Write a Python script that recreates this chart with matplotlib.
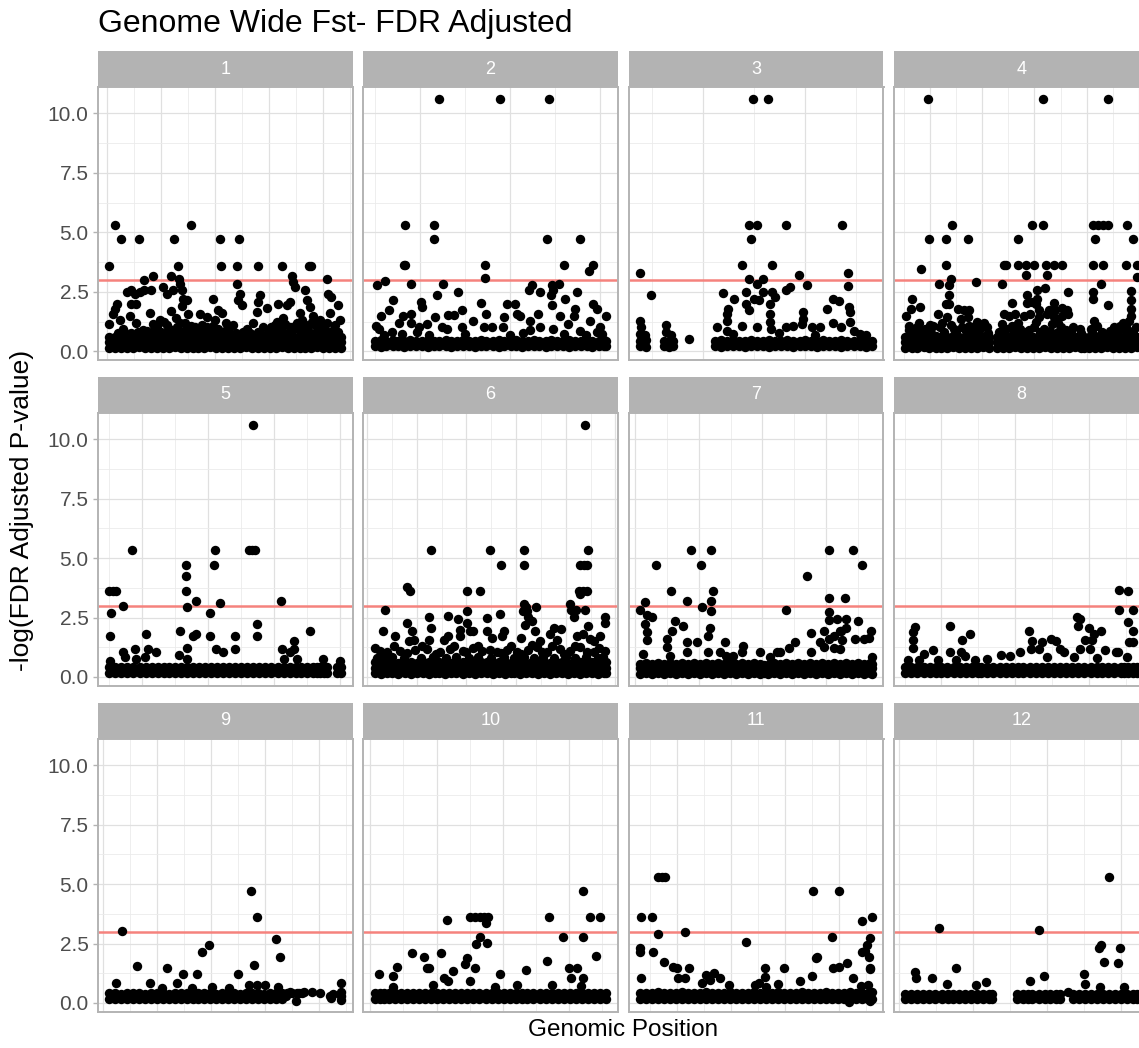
import matplotlib.pyplot as plt
from matplotlib.ticker import MultipleLocator, FormatStrFormatter

plt.rcParams['font.family'] = ['Liberation Sans', 'DejaVu Sans']

title = "Genome Wide Fst- FDR Adjusted"
x_label = "Genomic Position"
y_label = "-log(FDR Adjusted P-value)"
chromosomes = ["1", "2", "3", "4", "5", "6", "7", "8", "9", "10", "11", "12"]
threshold = 3

# dense baseline SNPs: (position Mb, -log p values at that position)
band1 = [(0.4, .14, .37, .6), (1.5, .15, .38, .62), (2.6, .14, .36, .6), (3.7, .15, .38, .64),
         (4.8, .14, .37, .6), (5.9, .16, .38, .62), (7.0, .14, .37, .66), (8.1, .15, .38, .62),
         (9.2, .14, .36, .64), (10.3, .15, .38, .6), (11.4, .14, .37, .66), (12.5, .16, .38, .62),
         (13.6, .14, .37, .64), (14.7, .15, .38, .6), (15.8, .14, .36, .62), (16.9, .15, .38, .6),
         (18.0, .14, .37, .62), (19.1, .16, .38, .64), (20.2, .14, .37, .6), (21.3, .15, .38, .62),
         (22.4, .14, .36, .6), (23.5, .15, .38, .62), (24.6, .14, .37, .6), (25.7, .16, .38, .6),
         (26.8, .14, .37, .62), (27.9, .15, .38, .6), (29.0, .14, .36, .64), (30.1, .15, .38, .62),
         (31.2, .14, .37, .64), (32.3, .16, .38, .6), (33.4, .14, .37, .66), (34.5, .15, .38, .62),
         (35.6, .14, .36, .64), (36.7, .15, .38, .6), (37.8, .14, .37, .62), (38.9, .16, .38, .64),
         (40.0, .14, .37, .6), (41.1, .15, .38, .62), (42.2, .14, .36, .6), (43.3, .15, .38, .62)]
band2 = [(5.0, .22, .45), (5.7, .2, .46), (6.3, .22, .44), (7.0, .21, .46), (7.6, .22, .45),
         (8.3, .2, .44), (8.9, .22, .46), (9.6, .21, .45), (10.3, .22, .44), (10.9, .2, .46),
         (11.6, .22, .45), (12.2, .21, .44), (12.9, .22, .46), (13.5, .2, .45), (14.2, .22, .44),
         (14.8, .21, .46), (15.5, .22, .45), (16.1, .2, .44), (16.8, .22, .46), (17.4, .21, .45),
         (18.1, .22, .44), (18.8, .2, .46), (19.4, .22, .45), (20.1, .21, .44), (20.7, .22, .46),
         (21.4, .2, .45), (22.0, .22, .44), (22.7, .21, .46), (23.3, .22, .45), (24.0, .2, .44),
         (24.6, .22, .46), (25.3, .21, .45), (25.9, .22, .44), (26.6, .2, .46), (27.3, .22, .45),
         (27.9, .21, .44), (28.6, .22, .46), (29.2, .2, .45), (29.9, .22, .44), (30.5, .21, .46),
         (30.7, .22, .45)]
band3 = [(3.9, .22, .45), (4.4, .2, .46), (6.2, .22, .45), (6.7, .2, .44), (7.1, .24, .45),
         (11.2, .22, .45), (11.8, .2, .46), (12.4, .22, .44), (13.0, .21, .46), (13.6, .22, .45),
         (14.2, .2, .44), (14.7, .22, .46), (15.3, .21, .45), (15.9, .22, .44), (16.5, .2, .46),
         (17.1, .22, .45), (17.7, .21, .44), (18.3, .22, .46), (18.9, .2, .45), (19.5, .22, .44),
         (20.0, .21, .46), (20.6, .22, .45), (21.2, .2, .44), (21.8, .22, .46), (22.4, .21, .45),
         (23.0, .22, .44), (23.6, .2, .46), (24.2, .22, .45), (24.8, .21, .44), (25.4, .22, .46),
         (26.0, .2, .45), (26.6, .22, .44)]
band4 = [(5.2, .15, .38, .62), (6.4, .14, .37, .6), (7.5, .15, .38, .64), (8.7, .16, .38, .62),
         (9.8, .14, .37, .6), (11.0, .15, .38, .64), (12.1, .14, .36, .62), (13.3, .15, .38, .6),
         (14.4, .16, .37, .64), (15.6, .14, .38, .62), (16.7, .15, .37, .6), (17.9, .14, .38, .62),
         (19.0, .15, .36, .64), (20.2, .16, .38, .6), (21.3, .14, .37, .62),
         (22.8, .15, .38, .62), (24.0, .14, .37, .64), (25.1, .15, .38, .6), (26.3, .16, .36, .62),
         (27.4, .14, .38, .64), (28.6, .15, .37, .62), (29.7, .14, .38, .6), (30.9, .15, .37, .64),
         (32.0, .16, .38, .62), (33.2, .14, .36, .6), (34.3, .15, .38, .64), (35.5, .14, .37, .62),
         (36.6, .15, .38, .6), (37.8, .16, .37, .62), (38.9, .14, .38, .64), (39.5, .15, .37, .6),
         (40.4, .15, .38, .62), (41.6, .14, .37, .64), (42.7, .15, .38, .6), (43.9, .16, .36, .62),
         (45.0, .14, .38, .64), (46.2, .15, .37, .6), (47.3, .14, .38, .62), (48.5, .15, .37, .64),
         (49.7, .16, .38, .6)]
band5 = [(5.0, .17, .4), (5.9, .16, .42), (6.8, .18, .4), (7.7, .17, .41), (8.6, .16, .4),
         (9.6, .18, .42), (10.5, .17, .4), (11.4, .16, .41), (12.3, .18, .4), (13.3, .17, .42),
         (14.0, .17, .4), (14.9, .16, .42), (15.8, .18, .4), (16.7, .17, .41), (17.7, .16, .4),
         (18.6, .18, .42), (19.5, .17, .4), (20.4, .16, .41), (21.3, .18, .4), (22.2, .17, .42),
         (23.1, .16, .4), (24.1, .18, .41), (25.0, .17, .4), (25.9, .16, .42), (26.8, .18, .4),
         (27.7, .17, .41), (28.6, .16, .4), (29.5, .18, .42), (30.5, .17, .4), (31.4, .16, .41),
         (32.3, .18, .4), (33.2, .17, .42), (34.1, .16, .4), (35.0, .18, .41), (35.9, .17, .4),
         (36.4, .16, .42), (36.9, .17, .4), (37.5, .18, .42), (38.0, .17, .4), (39.5, .16, .41),
         (40.1, .18, .4)]
band6 = [(1.5, .15, .38, .62), (2.7, .14, .37, .6), (3.9, .15, .38, .64), (5.1, .16, .37, .62),
         (6.3, .14, .38, .6), (7.6, .15, .36, .64), (8.8, .14, .38, .62), (10.0, .15, .37, .6),
         (11.2, .16, .38, .64), (12.4, .14, .37, .62), (13.7, .15, .38, .6),
         (14.4, .15, .38, .62), (15.6, .14, .37, .64), (16.8, .15, .38, .6), (18.0, .16, .36, .62),
         (19.3, .14, .38, .64), (20.5, .15, .37, .62), (21.7, .14, .38, .6), (22.9, .15, .37, .64),
         (24.1, .16, .38, .62), (25.3, .14, .36, .6), (26.5, .15, .38, .64), (27.7, .14, .37, .62),
         (29.0, .15, .38, .6),
         (29.6, .15, .38, .62), (30.8, .14, .37, .64), (32.0, .15, .38, .6), (33.2, .16, .36, .62),
         (34.4, .14, .38, .64), (35.7, .15, .37, .62), (36.9, .14, .38, .6), (38.1, .15, .37, .64),
         (39.3, .16, .38, .62), (40.5, .14, .36, .6), (41.7, .15, .38, .64), (42.9, .14, .37, .62),
         (44.1, .15, .38, .6), (45.3, .16, .37, .62), (46.5, .14, .38, .64), (47.7, .15, .37, .6),
         (48.2, .15, .38, .62)]
band7 = [(0.8, .14, .36, .56), (1.7, .15, .37, .58), (2.7, .14, .36, .56), (3.6, .15, .37, .58),
         (4.6, .14, .36, .56), (5.5, .15, .37, .58), (6.4, .14, .36, .56), (7.4, .15, .37, .58),
         (8.3, .14, .36, .56), (9.3, .15, .37, .58), (10.2, .14, .36, .56), (11.1, .15, .37, .58),
         (12.1, .14, .36, .56), (13.0, .15, .37, .58), (14.0, .14, .36, .56), (14.9, .15, .37, .58),
         (15.8, .14, .36, .56), (16.8, .15, .37, .58), (17.7, .14, .36, .56), (18.7, .15, .37, .58),
         (19.6, .14, .36, .56), (20.2, .15, .37, .52),
         (20.9, .14, .36, .52), (21.8, .15, .37, .58), (22.8, .14, .36, .56), (23.7, .15, .37, .58),
         (24.7, .14, .36, .56), (25.6, .15, .37, .58), (26.5, .14, .36, .56), (27.5, .15, .37, .58),
         (28.4, .14, .36, .56), (29.4, .15, .37, .58), (30.3, .14, .36, .56), (31.2, .15, .37, .58),
         (32.2, .14, .36, .56), (33.1, .15, .37, .58), (34.1, .14, .36, .56), (35.0, .15, .37, .58),
         (35.9, .14, .36, .56), (36.9, .15, .37, .58), (37.2, .14, .36, .56)]
band8 = [(5.1, .16, .4), (5.9, .15, .41), (6.7, .17, .4), (7.6, .16, .42), (8.4, .15, .4),
         (9.2, .17, .41), (10.0, .16, .4), (10.8, .15, .42), (11.7, .17, .4), (12.5, .16, .41),
         (13.3, .15, .4), (14.1, .17, .42), (15.0, .16, .4),
         (15.4, .16, .4), (16.2, .15, .41), (17.0, .17, .4), (17.9, .16, .42), (18.7, .15, .4),
         (19.5, .17, .41), (20.3, .16, .4), (21.1, .15, .42), (22.0, .17, .4), (22.8, .16, .41),
         (23.6, .15, .4), (24.4, .17, .42), (25.2, .16, .4), (26.1, .15, .41), (26.9, .17, .4),
         (27.7, .16, .42), (28.5, .15, .4), (29.3, .17, .41), (30.2, .16, .4), (31.0, .15, .42),
         (31.8, .17, .4), (32.6, .16, .41), (33.4, .15, .4), (34.3, .17, .42), (34.7, .16, .4),
         (35.2, .16, .4), (36.0, .15, .42), (36.5, .17, .4)]
band9 = [(1.2, .17, .4), (2.3, .18, .41), (3.4, .17, .39), (4.5, .16, .4), (5.6, .18, .41),
         (6.7, .17, .4), (7.8, .16, .39), (8.9, .18, .41), (10.0, .17, .4), (11.1, .16, .41),
         (12.2, .18, .39), (13.3, .17, .4), (14.4, .16, .41), (15.5, .18, .4), (16.6, .17, .39),
         (17.7, .16, .41), (18.8, .18, .4), (19.9, .17, .41), (21.0, .16, .39), (22.1, .18, .4),
         (23.2, .17, .41), (24.3, .16, .4), (25.4, .18, .39), (26.5, .17, .41), (27.6, .16, .4),
         (28.7, .18, .41), (29.8, .17, .39), (30.9, .16, .4), (32.0, .18, .41), (33.1, .17, .4)]
band10 = [(0.65, .16, .4), (1.4, .15, .42), (2.1, .17, .4),
          (2.8, .16, .4), (3.7, .15, .41), (4.6, .17, .4), (5.5, .16, .42), (6.4, .15, .4),
          (7.3, .17, .41), (8.2, .16, .4), (9.2, .15, .42), (10.1, .17, .4), (11.0, .16, .41),
          (11.9, .15, .4), (12.8, .17, .42), (13.7, .16, .4), (14.6, .15, .41), (15.5, .17, .4),
          (16.4, .16, .42), (17.4, .15, .4), (18.3, .17, .41), (19.2, .16, .4), (20.1, .15, .42),
          (21.0, .17, .4), (21.9, .16, .41), (22.8, .15, .4), (23.7, .17, .42), (24.6, .16, .4),
          (25.6, .15, .41), (26.5, .17, .4), (27.4, .16, .42), (28.3, .15, .4), (29.2, .17, .41),
          (30.1, .16, .4), (31.0, .15, .42), (31.9, .17, .4), (32.8, .16, .41), (33.7, .15, .4),
          (34.7, .17, .42), (35.6, .16, .4)]
band11 = [(3.15, .16, .43), (4.3, .15, .44), (5.4, .17, .43), (6.5, .16, .45), (7.6, .15, .43),
          (8.7, .17, .44), (9.8, .16, .43), (10.9, .15, .45), (12.0, .17, .43), (13.1, .16, .44),
          (14.2, .15, .43), (15.4, .17, .45), (16.5, .16, .43), (17.6, .15, .44), (18.7, .17, .43),
          (19.8, .16, .45), (20.9, .15, .43), (22.0, .17, .44), (23.1, .16, .43), (24.2, .15, .45),
          (25.3, .17, .43), (26.4, .16, .44), (27.5, .15, .43), (28.7, .17, .45), (29.8, .16, .43),
          (30.9, .15, .44), (32.0, .17, .43), (33.1, .16, .45), (34.2, .15, .43), (35.3, .17, .44),
          (36.4, .16, .43), (37.5, .15, .45), (38.6, .17, .43), (39.7, .16, .44), (40.8, .15, .43),
          (41.9, .17, .45), (43.1, .16, .43), (44.2, .15, .44), (45.3, .17, .43), (46.0, .16, .45)]
band12 = [(0.9, .16, .37), (1.7, .15, .38), (2.5, .17, .37), (3.3, .16, .39), (4.1, .15, .37),
          (4.9, .17, .38), (5.8, .16, .37), (6.6, .15, .39), (7.4, .17, .37), (8.2, .16, .38),
          (9.0, .15, .37), (9.8, .17, .39), (10.6, .16, .37), (11.4, .15, .38), (12.2, .17, .37),
          (12.6, .16, .38),
          (16.0, .16, .37), (16.8, .15, .38), (17.5, .17, .37), (18.0, .16, .38),
          (18.9, .16, .37), (19.7, .15, .38), (20.5, .17, .37), (21.3, .16, .39), (21.8, .15, .37),
          (23.6, .16, .37), (24.4, .15, .38), (25.2, .17, .37), (26.0, .16, .39), (26.8, .15, .37),
          (27.6, .17, .38), (28.4, .16, .37), (29.2, .15, .39), (30.0, .17, .37), (30.8, .16, .38),
          (31.6, .15, .37), (32.2, .17, .38)]

# scattered SNPs above the baseline: (position Mb, -log p)
hits1 = [(0.4, 3.6), (1.4, 5.33), (2.65, 4.7), (5.9, 4.7), (12.3, 4.7), (15.6, 5.33), (20.9, 4.7),
         (24.4, 4.7), (13.2, 3.6), (21.0, 3.6), (24.0, 3.6), (28.0, 3.6), (32.3, 3.6), (37.4, 3.6),
         (37.8, 3.6), (6.8, 2.98), (8.5, 3.18), (11.8, 3.18), (13.3, 3.05), (34.3, 3.18), (40.7, 3.05),
         (24.0, 2.84), (34.4, 2.9), (34.8, 2.7), (0.4, 1.15), (1.1, 1.57), (1.5, 1.79), (1.85, 2.0),
         (3.6, 2.48), (4.5, 2.56), (5.1, 2.42), (6.0, 2.48), (6.8, 2.56), (4.5, 2.0), (5.4, 1.97),
         (8.2, 2.56), (10.4, 2.7), (11.0, 2.42), (12.2, 2.56), (13.5, 2.84), (13.8, 2.56), (14.1, 2.2),
         (14.7, 2.14), (19.6, 2.18), (20.6, 1.72), (24.6, 2.42), (24.2, 2.14), (24.9, 1.93),
         (28.3, 2.35), (28.0, 2.07), (27.7, 1.65), (31.7, 2.0), (33.2, 1.93), (33.8, 2.07),
         (36.6, 2.56), (36.9, 2.14), (37.5, 1.86), (38.1, 1.5), (40.9, 2.42), (41.5, 2.28),
         (42.8, 1.93), (43.1, 1.3), (17.2, 1.57), (18.4, 1.46), (2.35, 1.3), (2.96, 0.95), (4.2, 1.5),
         (5.43, 1.2), (6.67, 0.9), (7.9, 1.6), (9.14, 1.05), (9.75, 1.3), (11.0, 1.1), (11.9, 1.7),
         (12.8, 1.4), (13.8, 1.9), (14.4, 1.2), (15.0, 1.55), (16.2, 1.0), (18.4, 1.0), (19.9, 1.3),
         (21.2, 1.6), (22.1, 0.95), (23.3, 1.1), (25.8, 0.95), (27.0, 1.2), (28.9, 1.0), (29.5, 1.8),
         (30.7, 0.9), (31.4, 1.25), (32.6, 1.4), (33.8, 1.0), (35.1, 1.2), (35.7, 1.6), (38.5, 1.1),
         (39.4, 1.3), (40.3, 0.9), (41.2, 1.6), (42.2, 1.1), (7.3, 0.85), (8.5, 1.15), (10.0, 0.8),
         (10.6, 1.25), (12.0, 0.9), (13.0, 1.0), (14.0, 0.8), (15.5, 1.05), (17.0, 0.85), (19.0, 0.8),
         (20.5, 0.95), (22.6, 0.8), (29.9, 0.85), (31.0, 1.1), (32.0, 0.8), (33.0, 1.15), (34.3, 0.85),
         (35.5, 0.95), (36.5, 1.15), (37.3, 0.8), (38.9, 0.85), (40.6, 1.2), (41.6, 0.85),
         (7.8, 0.75), (8.9, 0.95), (9.5, 0.75), (10.9, 0.78), (11.5, 0.95), (12.5, 0.78), (13.5, 1.2),
         (14.6, 0.95), (15.2, 0.78), (16.5, 0.8), (17.6, 1.1), (18.0, 0.78), (19.5, 1.05), (20.0, 0.75),
         (21.6, 0.8), (22.0, 1.2), (30.3, 1.0), (31.8, 0.78), (32.4, 1.0), (33.5, 0.78), (34.8, 1.05),
         (35.9, 0.78), (36.1, 1.3), (37.0, 1.0), (38.0, 1.25), (39.6, 0.8), (40.0, 1.05), (41.0, 0.78),
         (42.7, 0.8), (2.0, 0.78), (3.2, 0.8), (4.5, 0.78), (5.8, 0.8), (23.8, 0.78), (25.2, 0.8),
         (26.5, 0.78), (28.0, 0.8)]
hits2 = [(12.16, 10.59), (18.95, 10.59), (24.4, 10.59), (8.43, 5.33), (11.57, 5.33), (11.57, 4.7),
         (24.2, 4.7), (27.8, 4.7), (8.25, 3.64), (8.43, 3.64), (17.3, 3.64), (26.0, 3.64), (29.3, 3.64),
         (28.8, 3.36), (17.3, 3.08), (5.3, 2.77), (6.2, 2.94), (9.0, 2.81), (12.6, 2.81), (22.5, 2.8),
         (22.1, 2.56), (23.4, 2.49), (24.7, 2.77), (24.85, 2.56), (25.5, 2.84), (24.6, 2.35),
         (24.7, 1.93), (26.2, 2.2), (11.9, 2.35), (14.3, 2.49), (27.5, 2.49), (7.07, 2.17), (10.1, 2.07),
         (10.3, 1.86), (6.6, 1.74), (5.74, 1.5), (5.2, 1.05), (8.2, 1.5), (9.0, 1.58), (7.7, 1.18),
         (9.0, 1.18), (9.9, 1.01), (13.2, 1.53), (13.8, 1.53), (14.7, 1.74), (11.75, 1.46), (10.8, 1.13),
         (12.5, 1.01), (15.9, 1.29), (16.8, 2.03), (17.4, 1.58), (14.7, 1.01), (19.7, 1.97), (20.6, 1.97),
         (20.8, 1.58), (21.2, 1.5), (19.4, 1.43), (19.3, 1.01), (23.2, 1.58), (22.3, 1.29), (23.4, 1.01),
         (25.6, 1.5), (27.25, 1.79), (27.1, 1.5), (29.3, 1.97), (29.7, 1.79), (30.75, 1.5), (28.9, 1.27),
         (30.0, 1.04), (26.5, 1.15), (5.5, 0.94), (6.96, 0.8), (9.7, 0.8), (13.0, 0.94), (17.1, 1.01),
         (18.0, 1.01), (22.3, 0.9), (24.85, 0.94), (27.8, 0.87), (29.65, 0.8), (6.0, 0.7), (8.0, 0.72),
         (11.0, 0.7), (15.0, 0.72), (20.0, 0.7), (21.5, 0.75), (26.0, 0.72), (28.5, 0.7), (30.3, 0.72)]
hits3 = [(3.86, 3.29), (4.93, 2.35), (3.9, 1.29), (3.95, 1.0), (3.9, 0.73), (4.3, 0.7), (6.37, 1.11),
         (6.4, 0.8), (6.9, 0.7), (8.66, 0.52), (14.9, 10.6), (16.37, 10.6), (14.54, 5.33), (15.29, 5.33),
         (18.2, 5.33), (23.7, 5.33), (14.7, 4.7), (13.9, 3.64), (16.8, 3.64), (19.4, 3.22), (14.54, 3.05),
         (15.95, 3.05), (15.3, 2.84), (24.3, 3.3), (24.3, 2.74), (20.2, 2.8), (18.56, 2.7), (18.2, 2.56),
         (12.0, 2.46), (14.25, 2.49), (15.95, 2.49), (16.8, 2.49), (17.1, 2.3), (13.1, 2.2), (15.0, 2.2),
         (15.55, 2.14), (22.8, 2.2), (23.4, 2.1), (12.5, 1.79), (12.35, 1.58), (14.25, 2.0), (14.5, 1.72),
         (16.6, 2.0), (16.6, 1.58), (22.2, 1.77), (24.4, 1.86), (24.45, 1.65), (19.8, 1.65), (11.4, 1.01),
         (12.35, 1.29), (12.4, 0.87), (13.9, 1.08), (15.3, 1.04), (16.6, 1.22), (16.7, 0.94), (18.2, 1.01),
         (18.9, 1.08), (19.8, 1.36), (19.7, 1.15), (20.7, 1.01), (21.5, 1.04), (22.8, 1.18), (23.6, 1.01),
         (24.45, 1.22), (24.8, 0.87), (25.4, 0.73), (13.0, 0.72), (17.5, 0.75), (21.0, 0.7), (26.0, 0.7)]
hits4 = [(9.55, 10.6), (31.7, 10.6), (44.1, 10.6), (14.2, 5.33), (29.55, 5.33), (31.7, 5.33), (41.2, 5.33),
         (42.2, 5.33), (43.1, 5.33), (44.1, 5.33), (47.7, 5.33), (9.8, 4.7), (12.95, 4.7), (17.2, 4.7),
         (26.8, 4.7), (41.7, 4.7), (48.9, 4.7), (8.14, 3.47), (12.95, 3.64), (24.1, 3.64), (24.6, 3.64),
         (26.8, 3.64), (28.4, 3.64), (29.9, 3.64), (32.2, 3.64), (33.8, 3.64), (35.3, 3.64), (41.2, 3.64),
         (43.2, 3.64), (47.5, 3.64), (49.7, 3.64), (28.4, 3.22), (32.4, 3.22), (14.0, 3.05), (49.7, 3.12),
         (11.6, 2.84), (13.5, 2.77), (18.7, 2.91), (23.8, 2.84), (42.8, 2.81), (32.1, 2.67), (30.5, 2.56),
         (13.5, 2.35), (28.6, 2.38), (36.4, 2.49), (48.5, 2.53), (41.2, 2.49), (41.2, 2.2), (6.5, 2.2),
         (6.2, 1.76), (8.1, 1.88), (13.1, 1.97), (13.5, 1.97), (30.5, 2.2), (30.2, 1.97), (30.8, 1.72),
         (28.6, 2.03), (29.55, 2.07), (48.6, 2.14), (48.6, 1.79), (44.1, 1.93), (25.6, 2.03), (15.4, 1.76),
         (16.4, 1.72), (17.4, 1.74), (33.7, 2.04), (35.3, 1.81), (36.3, 1.74), (34.0, 1.74), (32.8, 1.72),
         (5.3, 1.48), (11.4, 1.58), (13.2, 1.43), (15.8, 1.36), (17.2, 1.43), (24.1, 1.58), (25.1, 1.5),
         (26.3, 1.58), (27.9, 1.5), (29.2, 1.58), (30.8, 1.46), (32.4, 1.58), (33.7, 1.43), (35.3, 1.5),
         (36.4, 1.58), (41.4, 1.29), (48.5, 1.5), (48.1, 1.29), (46.5, 1.08), (47.5, 1.01), (19.0, 1.22),
         (20.3, 1.18), (17.4, 1.08), (10.6, 1.08), (5.83, 1.08), (7.44, 1.0), (9.04, 0.94), (11.9, 1.0),
         (14.5, 0.94), (16.1, 1.0), (19.6, 0.94), (20.9, 1.0), (23.8, 1.15), (25.7, 1.08), (27.3, 0.94),
         (29.9, 1.0), (31.8, 0.94), (33.4, 1.15), (35.0, 1.0), (37.3, 1.04), (38.8, 0.94), (40.8, 0.94),
         (45.3, 1.0), (46.9, 0.94), (49.4, 1.0), (6.8, 0.8), (8.6, 0.82), (10.2, 0.78), (12.6, 0.82),
         (15.0, 0.8), (18.0, 0.8), (21.0, 0.78), (23.2, 0.82), (26.0, 0.8), (28.0, 0.82), (31.0, 0.8),
         (34.6, 0.82), (37.0, 0.8), (39.0, 0.78), (41.0, 0.8), (43.0, 0.82), (45.8, 0.8), (48.0, 0.8),
         (6.0, 0.9), (7.9, 1.2), (9.9, 1.1), (12.3, 1.2), (14.0, 1.1), (16.8, 0.85), (18.6, 1.05),
         (24.5, 0.95), (26.8, 1.2), (28.9, 0.9), (30.2, 1.25), (32.9, 0.85), (34.5, 1.2), (36.0, 0.9),
         (42.0, 1.05), (44.5, 0.85), (47.0, 1.2), (49.0, 0.85)]
hits5 = [(26.8, 10.6), (8.4, 5.32), (21.0, 5.32), (26.1, 5.32), (26.6, 5.32), (27.1, 5.32), (16.6, 4.72),
         (20.8, 4.72), (16.6, 4.23), (5.0, 3.63), (5.5, 3.63), (6.0, 3.6), (16.6, 3.63), (18.2, 3.21),
         (21.8, 3.11), (31.0, 3.21), (7.1, 2.97), (16.7, 2.93), (5.25, 2.69), (20.25, 2.69), (27.3, 2.23),
         (27.3, 1.73), (5.1, 1.73), (10.6, 1.8), (15.7, 1.94), (17.7, 1.73), (18.1, 1.8), (20.2, 1.73),
         (24.1, 1.73), (35.4, 1.94), (33.0, 1.52), (7.1, 1.07), (8.9, 1.17), (10.9, 1.17), (12.1, 1.07),
         (15.6, 0.93), (16.7, 1.21), (21.2, 1.17), (22.2, 1.07), (24.1, 1.17), (31.1, 1.17), (32.4, 1.07),
         (33.0, 1.17), (31.4, 0.75), (33.4, 0.75), (37.4, 0.75), (39.9, 0.68), (5.1, 0.68), (7.4, 0.82),
         (9.1, 0.75), (10.4, 0.82), (16.7, 0.75)]
hits6 = [(43.9, 10.6), (12.9, 5.32), (24.7, 5.32), (31.6, 5.32), (44.5, 5.32), (26.9, 4.7), (31.6, 4.7),
         (42.9, 4.7), (43.6, 4.7), (44.3, 4.7), (8.0, 3.77), (8.56, 3.63), (20.2, 3.62), (22.65, 3.62),
         (42.6, 3.62), (43.5, 3.62), (44.3, 3.62), (42.9, 3.49), (31.6, 3.07), (32.0, 2.93), (34.1, 2.93),
         (40.9, 3.07), (3.52, 2.83), (20.2, 2.76), (31.4, 2.79), (32.2, 2.79), (41.0, 2.83), (42.1, 2.83),
         (43.9, 2.82), (16.2, 2.58), (26.8, 2.65), (18.4, 2.44), (24.2, 2.48), (48.0, 2.54), (48.0, 2.25),
         (12.5, 2.51), (12.9, 2.08), (8.0, 2.25), (20.1, 2.25), (20.8, 1.94), (18.8, 1.97), (32.4, 2.51),
         (33.2, 2.37), (31.8, 2.2), (33.8, 1.94), (37.6, 2.08), (39.0, 2.01), (41.6, 2.51), (44.5, 2.15),
         (3.2, 1.94), (5.7, 1.73), (9.0, 1.94), (9.4, 1.55), (12.5, 1.55), (15.4, 1.55), (16.2, 1.73),
         (18.8, 1.73), (21.4, 1.94), (24.1, 1.94), (25.1, 1.63), (27.1, 1.73), (27.5, 1.94), (31.0, 1.63),
         (34.9, 1.52), (36.9, 1.8), (38.2, 1.55), (42.2, 1.73), (43.5, 1.8), (44.9, 1.59), (45.6, 1.52),
         (46.9, 1.73), (8.4, 1.52), (2.65, 1.1), (4.0, 1.03), (6.7, 1.1), (9.7, 1.13), (12.0, 1.17),
         (14.7, 1.07), (16.7, 1.17), (19.4, 1.1), (21.4, 1.21), (23.1, 1.1), (26.1, 1.07), (28.2, 1.13),
         (30.2, 1.07), (32.5, 1.13), (34.2, 1.24), (36.2, 1.07), (38.9, 1.17), (40.9, 1.1), (42.9, 1.24),
         (45.6, 1.07), (48.0, 1.1), (2.0, 0.8), (5.0, 0.82), (7.5, 0.8), (10.8, 0.8), (13.2, 0.82),
         (15.8, 0.8), (18.0, 0.82), (20.5, 0.8), (22.4, 0.82), (25.0, 0.8), (27.5, 0.82), (29.5, 0.8),
         (31.5, 0.82), (33.6, 0.8), (35.5, 0.82), (37.6, 0.8), (40.0, 0.82), (41.8, 0.8), (44.0, 0.82),
         (46.5, 0.8), (47.6, 0.82), (1.6, 1.2), (3.3, 0.9), (5.5, 1.3), (8.0, 1.0), (11.0, 1.3), (13.8, 0.95),
         (17.5, 1.3), (20.0, 1.05), (22.3, 1.3), (24.8, 1.15), (27.0, 1.0), (29.0, 1.3), (31.0, 0.95),
         (33.2, 1.35), (35.3, 1.05), (37.2, 1.3), (39.6, 0.95), (41.9, 1.3), (44.3, 1.05), (46.8, 1.2)]
hits7 = [(8.74, 5.32), (11.9, 5.32), (30.4, 5.32), (34.2, 5.32), (3.3, 4.7), (10.4, 4.7), (35.7, 4.7),
         (27.0, 4.23), (5.6, 3.63), (12.3, 3.63), (30.4, 3.31), (32.9, 3.31), (8.1, 3.21), (11.9, 3.21),
         (11.9, 2.79), (10.5, 2.93), (1.57, 3.14), (0.79, 2.82), (23.7, 2.82), (30.4, 2.75), (1.83, 2.62),
         (2.62, 2.51), (30.4, 2.39), (31.7, 2.44), (33.1, 2.44), (35.0, 2.34), (32.2, 1.94), (33.2, 2.08),
         (37.0, 1.94), (1.57, 2.23), (1.83, 1.87), (1.83, 1.55), (11.7, 2.06), (6.3, 2.34), (5.76, 1.94),
         (7.6, 2.15), (5.0, 1.58), (8.1, 1.49), (9.7, 1.49), (11.4, 1.73), (14.1, 1.49), (27.6, 1.83),
         (29.1, 1.49), (29.7, 1.94), (30.5, 1.58), (31.2, 1.73), (32.5, 1.55), (32.3, 1.94), (34.6, 1.59),
         (35.9, 1.59), (36.8, 1.63), (5.0, 1.24), (17.0, 1.31), (22.8, 1.07), (24.1, 1.21), (25.1, 1.49),
         (22.3, 1.03), (27.6, 1.07), (29.6, 1.24), (31.2, 1.21), (32.2, 1.17), (37.2, 0.85), (1.31, 0.96),
         (5.5, 0.89), (8.1, 1.03), (11.5, 1.07), (13.35, 1.07), (14.3, 0.89), (15.4, 0.89), (16.75, 1.07),
         (19.6, 1.07), (21.2, 0.85)]
hits8 = [(34.0, 3.66), (35.3, 3.6), (34.0, 2.82), (36.0, 2.82), (35.2, 2.3), (35.9, 1.92), (35.4, 1.49),
         (35.9, 1.49), (35.1, 0.86), (33.9, 1.03), (28.4, 2.54), (28.8, 2.44), (28.5, 2.15), (30.0, 2.04),
         (31.6, 1.92), (29.4, 1.55), (30.4, 1.55), (30.7, 1.8), (21.9, 1.94), (6.45, 2.11), (6.2, 1.87),
         (6.2, 1.55), (6.1, 1.21), (11.2, 2.13), (12.8, 1.55), (13.8, 1.8), (8.9, 1.13), (11.2, 1.03),
         (12.6, 1.07), (13.2, 0.89), (7.6, 0.96), (22.3, 1.52), (22.1, 1.17), (23.6, 1.49), (23.2, 1.17),
         (24.8, 1.59), (25.5, 1.52), (20.7, 1.07), (19.3, 0.89), (18.0, 0.93), (26.6, 1.07), (28.8, 1.17),
         (30.1, 1.17), (32.2, 1.13), (33.6, 1.07), (26.1, 1.17), (16.2, 0.75), (24.3, 0.82), (27.9, 0.82),
         (31.1, 0.79), (5.5, 0.7), (7.0, 0.72), (9.5, 0.7), (12.0, 0.72), (14.5, 0.7)]
hits9 = [(3.64, 3.03), (27.5, 4.69), (28.5, 3.61), (32.1, 2.7), (32.8, 1.92), (27.9, 1.61), (18.3, 2.15),
         (19.6, 2.44), (6.4, 1.55), (11.85, 1.49), (14.9, 1.2), (17.4, 1.2), (25.0, 1.2), (2.47, 0.85),
         (8.77, 0.82), (13.7, 0.82), (20.2, 0.68), (27.0, 0.75), (28.5, 0.75), (30.1, 0.75), (32.5, 0.68),
         (10.9, 0.61), (16.5, 0.65), (23.3, 0.61), (34.0, 0.42), (34.7, 0.46), (35.0, 0.42), (35.7, 0.08),
         (36.0, 0.44), (36.8, 0.42), (37.2, 0.46), (38.7, 0.46), (40.2, 0.42), (42.0, 0.28), (42.3, 0.2),
         (42.6, 0.39), (44.0, 0.46), (44.0, 0.14), (44.1, 0.3), (44.1, 0.85), (33.9, 0.3), (36.3, 0.42)]
hits10 = [(32.1, 4.69), (11.5, 3.49), (15.1, 3.61), (15.8, 3.61), (16.6, 3.61), (17.2, 3.61), (17.8, 3.61),
          (17.5, 3.38), (27.0, 3.61), (33.2, 3.61), (34.6, 3.61), (29.05, 2.79), (32.0, 2.79), (16.6, 2.79),
          (16.0, 2.48), (17.6, 2.51), (10.7, 2.11), (6.3, 2.11), (8.1, 1.92), (8.5, 1.49), (8.8, 1.49),
          (14.6, 1.9), (14.3, 1.63), (15.8, 1.49), (26.6, 1.76), (34.1, 1.97), (4.0, 1.52), (3.4, 1.13),
          (1.36, 1.21), (12.5, 1.35), (23.5, 1.38), (19.6, 1.21), (29.9, 1.49), (31.2, 1.49), (30.3, 1.07),
          (32.1, 1.07), (11.1, 1.03), (11.7, 0.93), (15.0, 0.93), (9.4, 0.75), (22.1, 0.75), (27.4, 0.75),
          (31.7, 0.7), (3.5, 0.68), (18.8, 0.68)]
hits11 = [(6.5, 5.3), (7.2, 5.3), (7.8, 5.3), (35.1, 4.69), (40.0, 4.69), (3.33, 3.61), (5.43, 3.61),
          (46.0, 3.61), (44.2, 3.46), (6.4, 2.89), (11.4, 3.0), (38.6, 2.79), (22.8, 2.58), (3.15, 2.3),
          (3.15, 2.15), (5.6, 2.13), (45.7, 2.72), (45.1, 2.44), (44.8, 2.2), (44.2, 2.15), (45.4, 1.94),
          (45.7, 1.49), (45.6, 1.41), (35.9, 1.94), (35.6, 1.87), (7.65, 1.73), (9.3, 1.52), (9.9, 1.49),
          (12.1, 1.49), (38.8, 1.49), (40.0, 1.52), (41.4, 1.69), (29.7, 1.49), (26.2, 1.45), (26.2, 1.1),
          (34.9, 1.13), (42.5, 1.03), (3.27, 1.03), (10.1, 1.03), (11.5, 1.03), (15.4, 1.17), (16.9, 1.27),
          (16.0, 0.96), (18.0, 1.03), (14.6, 0.85), (19.5, 0.75), (24.4, 0.75), (25.1, 0.85), (26.5, 0.68),
          (28.6, 0.79), (32.8, 0.93), (41.7, 0.04), (45.6, 0.08), (45.2, 0.75), (44.0, 0.7)]
hits12 = [(28.4, 5.3), (5.4, 3.14), (19.0, 3.07), (27.0, 2.32), (27.3, 2.44), (29.9, 2.32), (27.7, 1.73),
          (29.6, 1.69), (2.25, 1.31), (2.4, 1.07), (4.5, 1.03), (7.8, 1.49), (17.7, 0.93), (19.6, 1.13),
          (25.0, 1.2), (6.5, 0.79), (10.4, 0.75), (11.85, 0.89), (22.9, 0.46), (25.1, 0.79), (27.25, 0.68),
          (30.4, 0.68)]

bands = [band1, band2, band3, band4, band5, band6, band7, band8, band9, band10, band11, band12]
hits = [hits1, hits2, hits3, hits4, hits5, hits6, hits7, hits8, hits9, hits10, hits11, hits12]

# layout in pixels (ggplot facet_wrap, 4 columns, right column cut by the canvas)
W, H = 1139, 1048
col_left = [97.7, 363.0, 628.5, 893.7]
row_top = [87.3, 413.0, 739.0]
pw, ph, strip_h = 255, 273, 36.5

fig = plt.figure(figsize=(W / 100, H / 100), dpi=100)

for i, name in enumerate(chromosomes):
    r, c = divmod(i, 4)
    left = col_left[c] / W
    ax = fig.add_axes([left, 1 - (row_top[r] + ph) / H, pw / W, ph / H])

    xs, ys = [], []
    for entry in bands[i]:
        x, *vals = entry
        xs += [x] * len(vals)
        ys += list(vals)
    for x, y in hits[i]:
        xs.append(x)
        ys.append(y)

    ax.axhline(threshold, color='#F5827D', lw=1.8, zorder=1)
    ax.scatter(xs, ys, s=46, c='black', linewidths=0, zorder=2)

    ax.set_ylim(-0.38, 11.1)
    ax.margins(x=0.05)
    ax.xaxis.set_major_locator(MultipleLocator(10))
    ax.xaxis.set_minor_locator(MultipleLocator(5))
    ax.yaxis.set_major_locator(MultipleLocator(2.5))
    ax.yaxis.set_minor_locator(MultipleLocator(1.25))
    ax.grid(which='major', color='#E0E0E0', lw=0.9)
    ax.grid(which='minor', color='#EBEBEB', lw=0.6)
    ax.set_axisbelow(True)

    ax.tick_params(axis='x', which='both', bottom=False, labelbottom=False)
    ax.tick_params(axis='y', which='minor', left=False)
    if c == 0:
        ax.tick_params(axis='y', which='major', length=3.6, width=1, color='#B3B3B3',
                       labelsize=15, labelcolor='#4D4D4D', pad=3)
        ax.yaxis.set_major_formatter(FormatStrFormatter('%.1f'))
    else:
        ax.tick_params(axis='y', which='major', left=False, labelleft=False)
    for sp in ax.spines.values():
        sp.set_color('#B3B3B3')
        sp.set_linewidth(1.4)

    # facet strip
    sax = fig.add_axes([left, 1 - row_top[r] / H, pw / W, strip_h / H])
    sax.set_facecolor('#B3B3B3')
    sax.set_xticks([])
    sax.set_yticks([])
    for sp in sax.spines.values():
        sp.set_visible(False)
    sax.text(0.5, 0.5, name, color='white', fontsize=13, ha='center', va='center',
             transform=sax.transAxes)

fig.text(97.7 / W, 1 - 32 / H, title, fontsize=23, ha='left', va='baseline')
fig.text(623 / W, 1 - 1030 / H, x_label, fontsize=17.5, ha='center', va='center')
fig.text(22 / W, 1 - 510 / H, y_label, fontsize=19, ha='center', va='center', rotation=90)

fig.savefig('out.png', dpi=100)
